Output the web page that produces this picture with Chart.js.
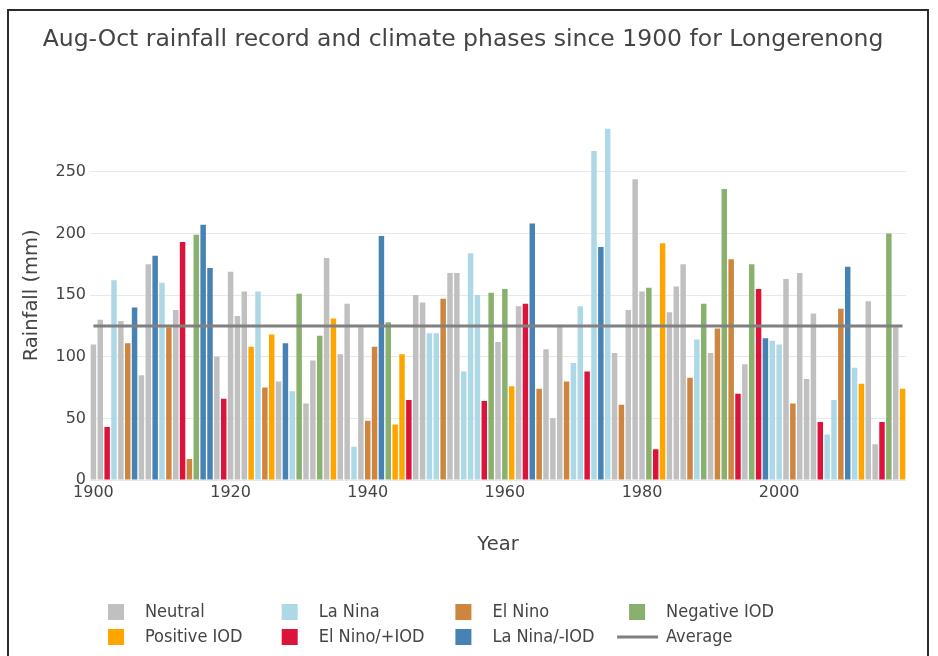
<!DOCTYPE html>
<html>
<head>
<meta charset="utf-8">
<title>Aug-Oct rainfall record - Longerenong</title>
<script src="https://cdn.jsdelivr.net/npm/chart.js@4.4.1/dist/chart.umd.min.js"></script>
<style>
  html, body { margin: 0; padding: 0; background: #fff; overflow: hidden; }
  #frame { position: absolute; left: 7px; top: 9px; width: 922px; height: 700px; border: 2px solid #2b2b2b; box-sizing: border-box; }
  #wrap { position: absolute; left: 0; top: 0; width: 938px; height: 656px; }
</style>
</head>
<body>
<div id="frame"></div>
<div id="wrap"><canvas id="rainChart"></canvas></div>
<script>
// --- Data ---
const firstYear = 1900;
const lastYear = 2018;
const years = [];
for (let y = firstYear; y <= lastYear; y++) years.push(String(y));

// Aug-Oct rainfall (mm), one value per year from 1900
const rainfall = [
  110, 130, 43, 162, 129, 111, 140, 85, 175, 182,
  160, 124, 138, 193, 17, 199, 207, 172, 100, 66,
  169, 133, 153, 108, 153, 75, 118, 80, 111, 72,
  151, 62, 97, 117, 180, 131, 102, 143, 27, 124,
  48, 108, 198, 128, 45, 102, 65, 150, 144, 119,
  119, 147, 168, 168, 88, 184, 150, 64, 152, 112,
  155, 76, 141, 143, 208, 74, 106, 50, 126, 80,
  95, 141, 88, 267, 189, 285, 103, 61, 138, 244,
  153, 156, 25, 192, 136, 157, 175, 83, 114, 143,
  103, 123, 236, 179, 70, 94, 175, 155, 115, 113,
  110, 163, 62, 168, 82, 135, 47, 37, 65, 139,
  173, 91, 78, 145, 29, 47, 200, 124, 74
];

// Climate phase of each year
const phases = [
  'N', 'N', 'EN+', 'LN', 'N', 'EN', 'LN-', 'N', 'N', 'LN-',
  'LN', 'EN', 'N', 'EN+', 'EN', '-IOD', 'LN-', 'LN-', 'N', 'EN+',
  'N', 'N', 'N', '+IOD', 'LN', 'EN', '+IOD', 'N', 'LN-', 'LN',
  '-IOD', 'N', 'N', '-IOD', 'N', '+IOD', 'N', 'N', 'LN', 'N',
  'EN', 'EN', 'LN-', '-IOD', '+IOD', '+IOD', 'EN+', 'N', 'N', 'LN',
  'LN', 'EN', 'N', 'N', 'LN', 'LN', 'LN', 'EN+', '-IOD', 'N',
  '-IOD', '+IOD', 'N', 'EN+', 'LN-', 'EN', 'N', 'N', 'N', 'EN',
  'LN', 'LN', 'EN+', 'LN', 'LN-', 'LN', 'N', 'EN', 'N', 'N',
  'N', '-IOD', 'EN+', '+IOD', 'N', 'N', 'N', 'EN', 'LN', '-IOD',
  'N', 'EN', '-IOD', 'EN', 'EN+', 'N', '-IOD', 'EN+', 'LN-', 'LN',
  'LN', 'N', 'EN', 'N', 'N', 'N', 'EN+', 'LN', 'LN', 'EN',
  'LN-', 'LN', '+IOD', 'N', 'N', 'EN+', '-IOD', 'N', '+IOD'
];

const phaseKeys   = ['N', 'LN', 'EN', '-IOD', '+IOD', 'EN+', 'LN-'];
const phaseNames  = ['Neutral', 'La Nina', 'El Nino', 'Negative IOD', 'Positive IOD', 'El Nino/+IOD', 'La Nina/-IOD'];
const phaseColors = ['#c0c0c0', '#add8e6', '#cd853f', '#8ab06e', '#ffa500', '#dc143c', '#4682b4'];

const average = 125;
const yTicks = [0, 50, 100, 150, 200, 250];

// --- Helpers ---
const FONT = "'DejaVu Sans', sans-serif";
const FONT_NARROW = "'DejaVu Sans Condensed', 'DejaVu Sans', sans-serif";
const TEXT = '#444';

// Legend laid out in fixed columns, two rows
const phaseLegend = {
    id: 'phaseLegend',
    afterDraw(chart) {
        const ctx = chart.ctx;
        ctx.save();
        ctx.font = '18px ' + FONT_NARROW;
        ctx.textBaseline = 'middle';
        chart.data.datasets.forEach((ds, i) => {
            const x = 108 + (i % 4) * 173.7;
            const y = 612 + Math.floor(i / 4) * 25;
            if (ds.type === 'line') {
                ctx.strokeStyle = ds.borderColor;
                ctx.lineWidth = 3;
                ctx.beginPath();
                ctx.moveTo(x - 12, y);
                ctx.lineTo(x + 29, y);
                ctx.stroke();
            } else {
                ctx.fillStyle = ds.backgroundColor;
                ctx.fillRect(x, y - 8, 16, 16);
            }
            ctx.fillStyle = TEXT;
            ctx.fillText(ds.label, x + 37, y);
        });
        ctx.restore();
    }
};

// --- Chart ---
Chart.defaults.font.family = FONT;
Chart.defaults.color = TEXT;

const barSets = phaseKeys.map((key, k) => ({
    type: 'bar',
    label: phaseNames[k],
    data: rainfall.map((v, i) => (phases[i] === key ? v : null)),
    backgroundColor: phaseColors[k],
    barPercentage: 0.8,
    categoryPercentage: 1,
    order: 1
}));

const avgSet = {
    type: 'line',
    label: 'Average',
    data: [{ x: years[0], y: average }, { x: years[years.length - 1], y: average }],
    borderColor: '#808080',
    borderWidth: 3,
    pointRadius: 0,
    order: 0
};

new Chart(document.getElementById('rainChart').getContext('2d'), {
    data: { labels: years, datasets: [...barSets, avgSet] },
    options: {
        responsive: true,
        maintainAspectRatio: false,
        animation: false,
        layout: { padding: { left: 20, right: 32, top: 0, bottom: 99 } },
        plugins: {
            legend: { display: false },
            tooltip: { enabled: false },
            title: {
                display: true,
                text: 'Aug-Oct rainfall record and climate phases since 1900 for Longerenong',
                color: TEXT,
                font: { size: 23.5, weight: 'normal' },
                padding: { top: 26, bottom: 56.5 }
            }
        },
        scales: {
            x: {
                stacked: true,
                grid: { display: false, drawTicks: false },
                border: { display: false },
                ticks: {
                    autoSkip: false,
                    maxRotation: 0,
                    padding: 3,
                    font: { size: 16 },
                    callback: (val, idx) => (Number(years[idx]) % 20 === 0 ? years[idx] : '')
                },
                title: { display: true, text: 'Year', font: { size: 19.5 }, padding: 0 },
                afterFit: (scale) => { scale.height = 77; }
            },
            y: {
                min: 0,
                max: 299.6,
                grid: { color: '#e8e8e8', drawTicks: false },
                border: { display: false },
                ticks: { padding: 4, font: { size: 16 } },
                afterBuildTicks: (scale) => { scale.ticks = yTicks.map(v => ({ value: v })); },
                title: { display: true, text: 'Rainfall (mm)', font: { size: 19.5 }, padding: 0 },
                afterFit: (scale) => { scale.width = 70; }
            }
        }
    },
    plugins: [phaseLegend]
});
</script>
</body>
</html>
